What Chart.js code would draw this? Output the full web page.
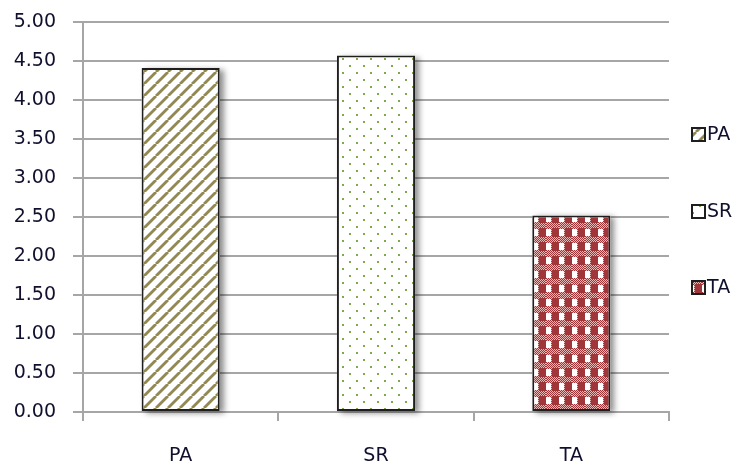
<!DOCTYPE html>
<html>
<head>
<meta charset="utf-8">
<script src="https://cdn.jsdelivr.net/npm/chart.js@4/dist/chart.umd.min.js"></script>
<style>
html,body{margin:0;padding:0;background:#fff;}
#wrap{width:742px;height:466px;position:relative;}
</style>
</head>
<body>
<div id="wrap"><canvas id="c" width="742" height="466"></canvas></div>
<script>
const categories = ["PA", "SR", "TA"];
const seriesNames = ["PA", "SR", "TA"];
const values = [4.41, 4.57, 2.52];
const yTicks = [0, 0.5, 1, 1.5, 2, 2.5, 3, 3.5, 4, 4.5, 5];

const FONT = "'DejaVu Sans', sans-serif";
const TEXT = "#10102e";

function makeTile(w, h, draw) {
  const c = document.createElement('canvas');
  c.width = w; c.height = h;
  const g = c.getContext('2d');
  g.fillStyle = '#fff'; g.fillRect(0, 0, w, h);
  draw(g, w, h);
  return document.getElementById('c').getContext('2d').createPattern(c, 'repeat');
}
const stripePat = makeTile(12, 12, (g, w, h) => {
  g.strokeStyle = '#918853';
  g.lineWidth = 2.8;
  for (let k = -1; k <= 1; k++) {
    g.beginPath();
    g.moveTo(k * w, h);
    g.lineTo(k * w + w, 0);
    g.stroke();
  }
});
const dotPat = makeTile(14, 14, (g) => {
  g.fillStyle = '#7faa4a';
  g.fillRect(6, 2, 2, 2);
  g.fillRect(13, 9, 2, 2);
  g.fillRect(0, 9, 1, 2);
});
const checkPat = makeTile(13, 14, (g, w, h) => {
  const red = '#a0363a';
  g.fillStyle = '#e8b8b7';
  g.fillRect(0, 0, w, h);
  for (let y = 0; y < h; y++) for (let x = 0; x < w; x++) {
    if ((x + y) % 2 === 0) { g.fillStyle = red; g.fillRect(x, y, 1, 1); }
  }
  g.fillStyle = red; g.fillRect(6, 4, 7, 9);
  g.fillStyle = '#ffffff'; g.fillRect(0, 5, 5, 7);
});
const patterns = [stripePat, dotPat, checkPat];

const shadowPlugin = {
  id: 'shadow',
  beforeDatasetsDraw(chart) {
    const ctx = chart.ctx;
    const meta = chart.getDatasetMeta(0);
    ctx.save();
    ctx.shadowColor = 'rgba(0,0,0,0.45)';
    ctx.shadowBlur = 6;
    ctx.shadowOffsetX = 4;
    ctx.shadowOffsetY = 2;
    ctx.fillStyle = '#fff';
    meta.data.forEach(b => {
      const p = b.getProps(['x', 'y', 'base', 'width'], true);
      ctx.fillRect(p.x - p.width / 2, p.y, p.width, p.base - p.y);
    });
    ctx.restore();
  }
};

const legendPlugin = {
  id: 'sideLegend',
  afterDraw(chart) {
    const ctx = chart.ctx;
    const ys = [134, 211, 287];
    ctx.save();
    ctx.font = '19px ' + FONT;
    ctx.textBaseline = 'middle';
    seriesNames.forEach((name, i) => {
      const y = ys[i];
      ctx.fillStyle = patterns[i];
      ctx.fillRect(692, y - 6, 13, 13);
      ctx.strokeStyle = '#1e1e1e';
      ctx.lineWidth = 2;
      ctx.strokeRect(692, y - 6, 13, 13);
      ctx.fillStyle = TEXT;
      ctx.fillText(name, 707, y + 1);
    });
    ctx.restore();
  }
};

new Chart(document.getElementById('c'), {
  type: 'bar',
  data: {
    labels: categories,
    datasets: [{
      data: values,
      backgroundColor: patterns,
      borderColor: '#1e1e1e',
      borderWidth: 2,
      borderSkipped: false,
      barPercentage: 0.4,
      categoryPercentage: 1
    }]
  },
  options: {
    responsive: false,
    animation: false,
    devicePixelRatio: 1,
    layout: { padding: { top: 22, right: 73, left: 0, bottom: 0 } },
    plugins: { legend: { display: false }, tooltip: { enabled: false } },
    scales: {
      y: {
        min: 0, max: 5,
        afterBuildTicks: (s) => { s.ticks = yTicks.map(v => ({ value: v })); },
        afterFit: (s) => { s.width = 83; s.paddingTop = 0; s.paddingBottom = 0; },
        ticks: {
          callback: (v) => Number(v).toFixed(2),
          font: { family: FONT, size: 19 },
          color: TEXT,
          padding: 17
        },
        grid: { color: '#a6a6a6', lineWidth: 2, tickLength: 10 },
        border: { color: '#a6a6a6', width: 2 }
      },
      x: {
        afterFit: (s) => { s.height = 54; s.paddingLeft = 0; s.paddingRight = 0; },
        ticks: {
          font: { family: FONT, size: 19 },
          color: TEXT,
          padding: 24
        },
        grid: { color: '#a6a6a6', lineWidth: 2, drawOnChartArea: false, tickLength: 9 },
        border: { color: '#a6a6a6', width: 2 }
      }
    }
  },
  plugins: [shadowPlugin, legendPlugin]
});
</script>
</body>
</html>
